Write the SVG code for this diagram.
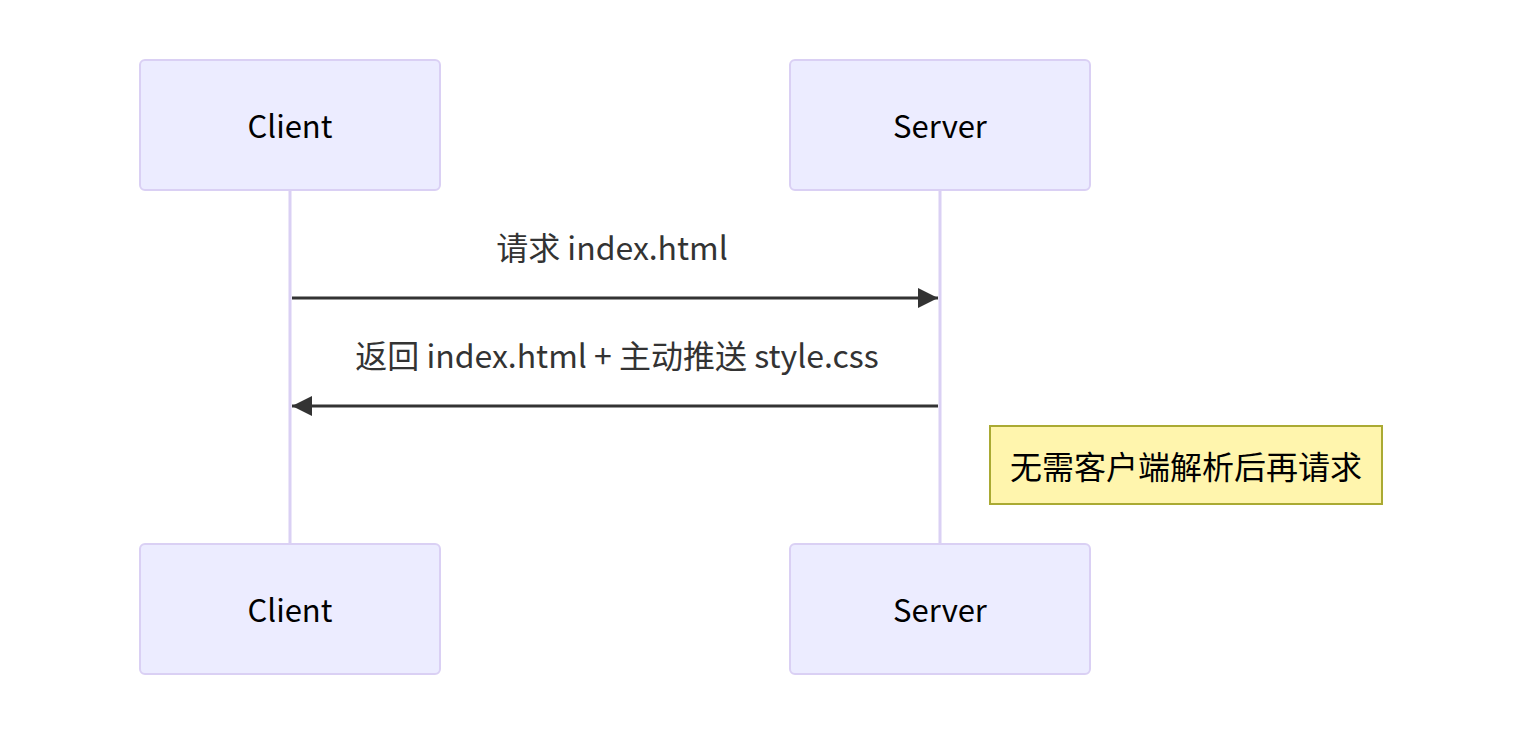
<svg xmlns="http://www.w3.org/2000/svg" width="1522" height="736" viewBox="0 0 1522 736">
<defs>
<style>
.actor{fill:#ECECFF;stroke:#DAD0F4;stroke-width:2}
.atext{font-family:"Noto Sans CJK SC","DejaVu Sans",sans-serif;font-size:31px;fill:#000;text-anchor:middle;dominant-baseline:central}
.life{stroke:#DAD0F4;stroke-width:3}
.msg{stroke:#333;stroke-width:3;fill:none}
.mtext{font-family:"Noto Sans CJK SC","DejaVu Sans",sans-serif;font-size:32px;fill:#333;text-anchor:middle}
.note{fill:#FFF5AD;stroke:#AAAA33;stroke-width:2}
.ntext{font-family:"Noto Sans CJK SC","DejaVu Sans",sans-serif;font-size:32px;fill:#000;text-anchor:middle;dominant-baseline:central}
</style>
<marker id="arrow" viewBox="0 0 10 10" refX="10" refY="5" markerUnits="userSpaceOnUse" markerWidth="20" markerHeight="20" orient="auto-start-reverse">
<path d="M0,0 L10,5 L0,10 z" fill="#333"/>
</marker>
</defs>
<rect width="1522" height="736" fill="#fff"/>
<g id="lifelines">
<line class="life" x1="290" y1="190" x2="290" y2="544"/>
<line class="life" x1="940" y1="190" x2="940" y2="544"/>
</g>
<g id="actor-client-top"><rect class="actor" x="140" y="60" width="300" height="130" rx="5"/><text class="atext" x="290" y="124">Client</text></g>
<g id="actor-server-top"><rect class="actor" x="790" y="60" width="300" height="130" rx="5"/><text class="atext" x="940" y="124">Server</text></g>
<g id="actor-client-bottom"><rect class="actor" x="140" y="544" width="300" height="130" rx="5"/><text class="atext" x="290" y="608">Client</text></g>
<g id="actor-server-bottom"><rect class="actor" x="790" y="544" width="300" height="130" rx="5"/><text class="atext" x="940" y="608">Server</text></g>
<g id="connectors">
<line class="msg" x1="292" y1="298" x2="938" y2="298" marker-end="url(#arrow)"/>
<text class="mtext" x="612" y="260">请求 index.html</text>
<line class="msg" x1="938" y1="406" x2="292" y2="406" marker-end="url(#arrow)"/>
<text class="mtext" x="617" y="368">返回 index.html + 主动推送 style.css</text>
</g>
<g id="note"><rect class="note" x="990" y="426" width="392" height="78"/><text class="ntext" x="1186" y="465">无需客户端解析后再请求</text></g>
</svg>
